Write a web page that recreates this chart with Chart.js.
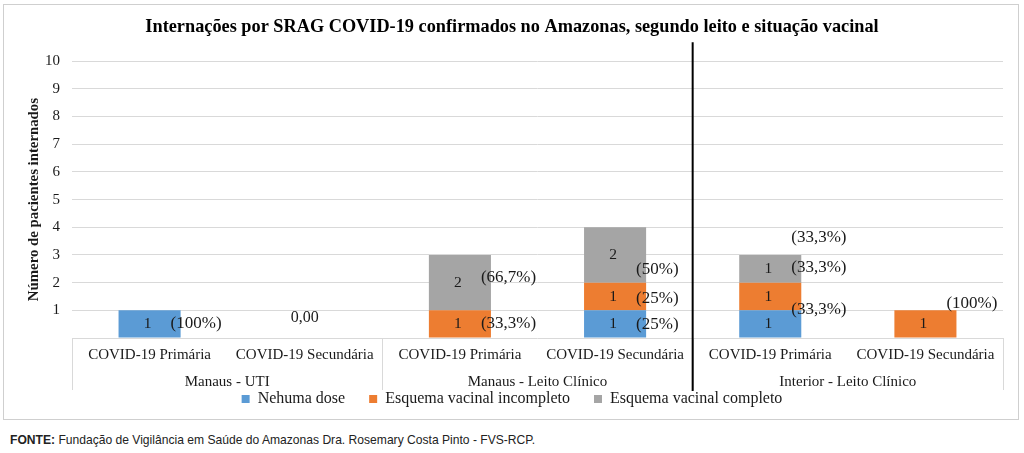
<!DOCTYPE html>
<html>
<head>
<meta charset="utf-8">
<script src="https://cdn.jsdelivr.net/npm/chart.js@4/dist/chart.umd.min.js"></script>
<style>
  html, body { margin: 0; padding: 0; background: #fff; }
  body { width: 1024px; height: 453px; position: relative; overflow: hidden; }
  #wrap { position: absolute; left: 0; top: 0; width: 1024px; height: 420px; }
  #frame { position: absolute; left: 3px; top: 4px; width: 1014px; height: 414px; border: 1px solid #cfcfcf; pointer-events: none; }
  #fonte { position: absolute; left: 10px; top: 433px; font-family: 'Liberation Sans', sans-serif; font-size: 12.1px; color: #222; }
</style>
</head>
<body>
<div id="wrap"><canvas id="chart" width="1024" height="420"></canvas></div>
<div id="frame"></div>
<div id="fonte"><b>FONTE:</b> Fundação de Vigilância em Saúde do Amazonas Dra. Rosemary Costa Pinto - FVS-RCP.</div>
<script>
const categories = ['COVID-19 Primária', 'COVID-19 Secundária', 'COVID-19 Primária', 'COVID-19 Secundária', 'COVID-19 Primária', 'COVID-19 Secundária'];
const groups = ['Manaus - UTI', 'Manaus - Leito Clínico', 'Interior - Leito Clínico'];

const nenhumaDose = [1, 0, 0, 1, 1, 0];
const incompleto  = [0, 0, 1, 1, 1, 1];
const completo    = [0, 0, 2, 2, 1, 0];

const pctNenhuma    = ['(100%)', '', '', '(25%)', '(33,3%)', ''];
const pctIncompleto = ['', '', '(33,3%)', '(25%)', '(33,3%)', '(100%)'];
const pctCompleto   = ['', '', '(66,7%)', '(50%)', '(33,3%)', ''];
const zeroLabels    = ['', '0,00', '', '', '', ''];

// vertical nudges (px) of the percent labels, as placed in the original
const pctShift = [
    [0, 0, 0, 1, -14, 0],
    [0, 0, 0, 2, -29, -20],
    [0, 0, -5, 15, -31, 0]
];

const serif = "'Liberation Serif', 'Times New Roman', serif";
const textColor = '#1a1a1a';

const labelsPlugin = {
    id: 'barLabels',
    afterDatasetsDraw(chart) {
        const ctx = chart.ctx;
        const pcts = [pctNenhuma, pctIncompleto, pctCompleto];
        ctx.save();
        ctx.fillStyle = textColor;
        ctx.textBaseline = 'middle';
        chart.data.datasets.forEach((ds, di) => {
            const meta = chart.getDatasetMeta(di);
            meta.data.forEach((bar, i) => {
                if (!ds.data[i]) return;
                const p = bar.getProps(['x', 'y', 'base'], true);
                const mid = (p.y + p.base) / 2;
                ctx.font = '15.5px ' + serif;
                ctx.textAlign = 'center';
                ctx.fillText(String(ds.data[i]), p.x - 2, mid);
                if (pcts[di][i]) {
                    ctx.font = '17px ' + serif;
                    ctx.textAlign = 'left';
                    ctx.fillText(pcts[di][i], p.x + 21, mid + pctShift[di][i]);
                }
            });
        });
        const xs = chart.scales.x, ys = chart.scales.y;
        ctx.font = '16px ' + serif;
        ctx.textAlign = 'center';
        zeroLabels.forEach((t, i) => {
            if (t) ctx.fillText(t, xs.getPixelForValue(i), ys.getPixelForValue(0) - 20);
        });
        ctx.restore();
    },
    afterDraw(chart) {
        const ctx = chart.ctx;
        const xs = chart.scales.x;
        const area = chart.chartArea;
        const step = xs.width / categories.length;
        ctx.save();
        // category table separators
        ctx.strokeStyle = '#d9d9d9';
        ctx.lineWidth = 1;
        for (let g = 0; g <= groups.length; g++) {
            const x = Math.round(xs.left + g * 2 * step) + 0.5;
            ctx.beginPath();
            ctx.moveTo(x, area.bottom);
            ctx.lineTo(x, area.bottom + 52);
            ctx.stroke();
        }
        // group labels
        ctx.font = '15px ' + serif;
        ctx.fillStyle = textColor;
        ctx.textAlign = 'center';
        ctx.textBaseline = 'middle';
        groups.forEach((g, gi) => {
            const cx = (xs.getPixelForValue(gi * 2) + xs.getPixelForValue(gi * 2 + 1)) / 2;
            ctx.fillText(g, cx, area.bottom + 44);
        });
        // black divider before the Interior group
        const xd = xs.left + 4 * step;
        ctx.strokeStyle = '#000';
        ctx.lineWidth = 2;
        ctx.beginPath();
        ctx.moveTo(xd, area.top - 19);
        ctx.lineTo(xd, area.bottom + 53);
        ctx.stroke();
        ctx.restore();
    }
};

new Chart(document.getElementById('chart'), {
    type: 'bar',
    data: {
        labels: categories,
        datasets: [
            { label: 'Nehuma dose', data: nenhumaDose, backgroundColor: '#5B9BD5' },
            { label: 'Esquema vacinal incompleto', data: incompleto, backgroundColor: '#ED7D31' },
            { label: 'Esquema vacinal completo', data: completo, backgroundColor: '#A5A5A5' }
        ]
    },
    options: {
        responsive: false,
        animation: false,
        layout: { padding: { left: 0, right: 0, top: 0, bottom: 3 } },
        datasets: { bar: { barPercentage: 0.4, categoryPercentage: 1 } },
        scales: {
            x: {
                stacked: true,
                grid: { display: false, drawTicks: false },
                border: { display: false },
                ticks: { color: textColor, font: { family: serif, size: 15 }, padding: 8, maxRotation: 0, autoSkip: false },
                afterFit: (axis) => { axis.height = 29; }
            },
            y: {
                stacked: true,
                min: 0,
                max: 10,
                grid: { color: '#d9d9d9', drawTicks: false },
                border: { display: false },
                ticks: {
                    stepSize: 1,
                    padding: 12,
                    color: textColor,
                    font: { family: serif, size: 15 },
                    callback: (v) => v === 0 ? '' : v
                },
                title: {
                    display: true,
                    text: 'Número de pacientes internados',
                    color: textColor,
                    font: { family: serif, size: 14.8, weight: 'bold' },
                    padding: { top: 25, bottom: 0 }
                },
                afterFit: (axis) => { axis.width = 72; }
            },
            yRight: {
                position: 'right',
                display: true,
                grid: { display: false, drawTicks: false },
                border: { display: false },
                ticks: { display: false },
                afterFit: (axis) => { axis.width = 21; }
            }
        },
        plugins: {
            title: {
                display: true,
                text: 'Internações por SRAG COVID-19 confirmados no Amazonas, segundo leito e situação vacinal',
                color: '#000',
                font: { family: serif, size: 18.3, weight: 'bold' },
                padding: { top: 16, bottom: 23.2 }
            },
            legend: {
                position: 'bottom',
                labels: {
                    boxWidth: 8,
                    boxHeight: 8,
                    padding: 24,
                    color: textColor,
                    font: { family: serif, size: 16 }
                }
            },
            tooltip: { enabled: false }
        }
    },
    plugins: [labelsPlugin]
});
</script>
</body>
</html>
